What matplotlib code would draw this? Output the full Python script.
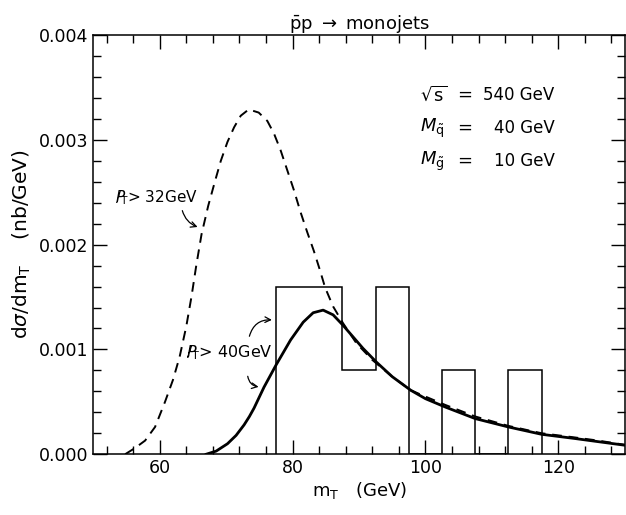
import numpy as np
import matplotlib
matplotlib.use("Agg")
import matplotlib.pyplot as plt
from matplotlib.ticker import MultipleLocator, FormatStrFormatter

# dashed curve: missing pT > 32 GeV
mt_32 = [54.8, 56.3, 57.8, 59.3, 60.8, 62.0, 63.0, 64.0, 64.8, 65.5, 66.3, 67.3,
         68.3, 69.2, 70.2, 71.2, 72.2, 73.4, 74.9, 76.2, 77.2, 78.2, 79.2, 80.2,
         81.2, 82.2, 83.2, 84.1, 84.9, 86.1, 87.6, 89.6, 92.0, 95.0, 97.8, 100.0,
         103.0, 107.5, 112.5, 117.5, 122.5, 126.0, 130.0]
xs_32 = [0.0, 0.00006, 0.00013, 0.00026, 0.00050, 0.00071, 0.00093, 0.00122,
         0.00151, 0.00180, 0.00210, 0.00237, 0.00260, 0.00280, 0.00298, 0.00312,
         0.00323, 0.00329, 0.00326, 0.00318, 0.00306, 0.00290, 0.00271, 0.00252,
         0.00231, 0.00212, 0.00194, 0.00176, 0.00159, 0.00141, 0.00125, 0.00106,
         0.00090, 0.00074, 0.00061, 0.00055, 0.00047, 0.00036, 0.00027, 0.00020,
         0.00016, 0.00013, 0.00009]

# solid curve: missing pT > 40 GeV
mt_40 = [67.0, 68.5, 70.2, 71.5, 72.7, 73.5, 74.2, 75.7, 77.5, 79.7, 81.6, 83.1,
         84.6, 86.1, 87.6, 89.1, 90.6, 92.6, 95.0, 97.8, 100.0, 103.0, 107.5,
         112.5, 117.5, 122.5, 126.0, 130.0]
xs_40 = [0.0, 0.00003, 0.00010, 0.00018, 0.00028, 0.00036, 0.00044, 0.00064,
         0.00085, 0.00109, 0.00126, 0.00135, 0.001375, 0.00133, 0.00123, 0.00112,
         0.00101, 0.00088, 0.00074, 0.00061, 0.00053, 0.00045, 0.00034, 0.00026,
         0.00019, 0.00015, 0.00012, 0.000086]

# UA1 events histogram
bin_edges = [77.5, 82.5, 87.5, 92.5, 97.5, 102.5, 107.5, 112.5, 117.5]
bin_vals = [0.0016, 0.0016, 0.0008, 0.0016, 0.0, 0.0008, 0.0, 0.0008]

plt.rcParams["font.family"] = "DejaVu Sans"
plt.rcParams["mathtext.fontset"] = "dejavusans"

fig = plt.figure(figsize=(6.26, 5.15), dpi=100)
ax = fig.add_axes([0.149, 0.118, 0.849, 0.814])

ax.stairs(bin_vals, bin_edges, color="black", lw=1.1, baseline=0)
ax.plot(mt_32, xs_32, color="black", lw=1.4, ls=(0, (5, 3.5)))
ax.plot(mt_40, xs_40, color="black", lw=2.0)

ax.set_xlim(50, 130)
ax.set_ylim(0, 0.004)
ax.xaxis.set_major_locator(MultipleLocator(20))
ax.xaxis.set_minor_locator(MultipleLocator(4))
ax.yaxis.set_major_locator(MultipleLocator(0.001))
ax.yaxis.set_minor_locator(MultipleLocator(0.0002))
ax.yaxis.set_major_formatter(FormatStrFormatter("%.3f"))
ax.tick_params(which="both", direction="in", top=True, right=True, width=1.0)
ax.tick_params(which="major", length=10, labelsize=12.5)
ax.tick_params(which="minor", length=6)
for sp in ax.spines.values():
    sp.set_linewidth(1.1)

ax.set_xlabel(r"m$_\mathsf{T}$   (GeV)", fontsize=13, labelpad=2)
ax.set_ylabel(r"d$\sigma$/dm$_\mathsf{T}$    (nb/GeV)", fontsize=14.5, labelpad=4)
ax.set_title(r"$\bar{\mathsf{p}}$p $\rightarrow$ monojets", fontsize=13, pad=4)

# parameters
labels = [r"$\sqrt{\mathsf{s}}$", r"$M_{\tilde{\mathsf{q}}}$", r"$M_{\tilde{\mathsf{g}}}$"]
values = ["540 GeV", "40 GeV", "10 GeV"]
rows_y = [0.857, 0.778, 0.699]
for lab, val, yy in zip(labels, values, rows_y):
    ax.text(0.615, yy, lab, transform=ax.transAxes, fontsize=13, ha="left", va="center")
    ax.text(0.684, yy, "=", transform=ax.transAxes, fontsize=13, ha="left", va="center")
    ax.text(0.868, yy, val, transform=ax.transAxes, fontsize=12, ha="right", va="center")

# curve labels
ax.text(53.2, 0.00245, r"$P\!\!\!\!/_\mathsf{T}$> 32GeV", fontsize=11,
        ha="left", va="center")
ax.annotate("", xy=(66.1, 0.00216), xytext=(63.3, 0.00235),
            arrowprops=dict(arrowstyle="->", color="black", lw=0.9,
                            connectionstyle="arc3,rad=0.3"))
ax.text(64.0, 0.00097, r"$P\!\!\!\!/_\mathsf{T}$> 40GeV", fontsize=11.5,
        ha="left", va="center")
ax.annotate("", xy=(77.3, 0.00128), xytext=(73.4, 0.0011),
            arrowprops=dict(arrowstyle="->", color="black", lw=0.9,
                            connectionstyle="arc3,rad=-0.45"))
ax.annotate("", xy=(75.3, 0.00064), xytext=(73.2, 0.00077),
            arrowprops=dict(arrowstyle="->", color="black", lw=0.9,
                            connectionstyle="arc3,rad=0.45"))

fig.savefig("out.png", dpi=100)
